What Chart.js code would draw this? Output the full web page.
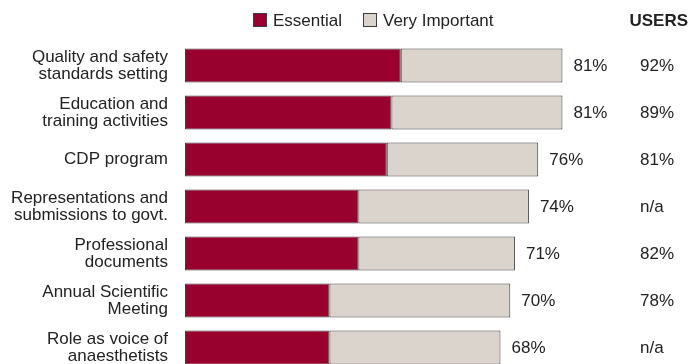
<!DOCTYPE html>
<html>
<head>
<meta charset="utf-8">
<script src="https://cdn.jsdelivr.net/npm/chart.js@4"></script>
<style>
  html, body { margin: 0; padding: 0; background: #fff; overflow: hidden; }
  #chart { display: block; }
</style>
</head>
<body>
<canvas id="chart" width="691" height="371"></canvas>
<script>
const categories = [
    ['Quality and safety', 'standards setting'],
    ['Education and', 'training activities'],
    'CDP program',
    ['Representations and', 'submissions to govt.'],
    ['Professional', 'documents'],
    ['Annual Scientific', 'Meeting'],
    ['Role as voice of', 'anaesthetists']
];
const essential = [46.3, 44.3, 43.3, 37.2, 37.2, 31.0, 31.0];
const veryImportant = [34.7, 36.7, 32.5, 36.6, 33.6, 38.8, 36.7];
const totalLabels = ['81%', '81%', '76%', '74%', '71%', '70%', '68%'];
const usersLabels = ['92%', '89%', '81%', 'n/a', '82%', '78%', 'n/a'];
const seriesNames = ['Essential', 'Very Important'];

const colors = {
    essential: '#98002e',
    important: '#dbd4cd',
    border: '#3c3c3c',
    text: '#222'
};
const FONT = '"Liberation Sans", Arial, Helvetica, sans-serif';

// labels at bar ends, USERS column and legend
const overlay = {
    id: 'overlay',
    afterDatasetsDraw(chart) {
        const ctx = chart.ctx;
        const meta = chart.getDatasetMeta(1);
        ctx.save();
        ctx.font = '17px ' + FONT;
        ctx.fillStyle = colors.text;
        ctx.textBaseline = 'middle';
        ctx.textAlign = 'left';
        meta.data.forEach((bar, i) => {
            ctx.fillText(totalLabels[i], bar.x + 11, bar.y + 1);
            ctx.fillText(usersLabels[i], 640, bar.y + 1);
        });

        ctx.font = 'bold 17px ' + FONT;
        ctx.textAlign = 'right';
        ctx.fillText('USERS', 688, 21);

        // legend
        ctx.font = '17px ' + FONT;
        ctx.textAlign = 'left';
        const items = [
            { x: 253, color: colors.essential, name: seriesNames[0] },
            { x: 363, color: colors.important, name: seriesNames[1] }
        ];
        items.forEach(it => {
            ctx.fillStyle = it.color;
            ctx.fillRect(it.x, 13, 14, 14);
            ctx.strokeStyle = colors.border;
            ctx.lineWidth = 1;
            ctx.strokeRect(it.x + 0.5, 13.5, 13, 13);
            ctx.fillStyle = colors.text;
            ctx.fillText(it.name, it.x + 20, 21);
        });
        ctx.restore();
    }
};

new Chart(document.getElementById('chart'), {
    type: 'bar',
    data: {
        labels: categories,
        datasets: [
            { label: seriesNames[0], data: essential, backgroundColor: colors.essential, borderColor: colors.border, borderWidth: 1, borderSkipped: false },
            { label: seriesNames[1], data: veryImportant, backgroundColor: colors.important, borderColor: colors.border, borderWidth: 1, borderSkipped: false }
        ]
    },
    options: {
        indexAxis: 'y',
        responsive: false,
        animation: false,
        datasets: { bar: { barPercentage: 0.72, categoryPercentage: 1.0 } },
        layout: { padding: { top: 42, right: 40, left: 0, bottom: 0 } },
        plugins: { legend: { display: false }, tooltip: { enabled: false } },
        scales: {
            x: { stacked: true, min: 0, max: 100, display: false },
            y: {
                stacked: true,
                grid: { display: false, drawTicks: false },
                border: { display: false },
                ticks: { color: colors.text, padding: 17, font: { family: FONT, size: 17, lineHeight: 1.0 } },
                afterFit(scale) {
                    scale.width = 185;
                    scale.paddingTop = 0;
                    scale.paddingBottom = 0;
                }
            }
        }
    },
    plugins: [overlay]
});
</script>
</body>
</html>
